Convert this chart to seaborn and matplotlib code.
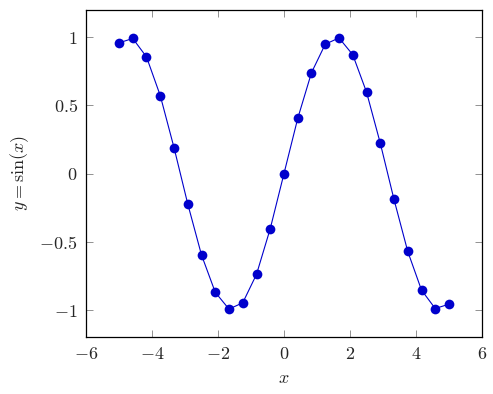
import matplotlib
matplotlib.use("Agg")
import matplotlib.pyplot as plt
import seaborn as sns
import pandas as pd

x_vals = [-5.0, -4.583, -4.167, -3.75, -3.333, -2.917, -2.5, -2.083, -1.667, -1.25,
          -0.833, -0.417, 0.0, 0.417, 0.833, 1.25, 1.667, 2.083, 2.5, 2.917,
          3.333, 3.75, 4.167, 4.583, 5.0]
y_vals = [0.959, 0.991, 0.856, 0.572, 0.190, -0.223, -0.598, -0.872, -0.995, -0.949,
          -0.740, -0.405, 0.0, 0.405, 0.740, 0.949, 0.995, 0.872, 0.598, 0.223,
          -0.190, -0.572, -0.856, -0.991, -0.959]
x_ticks = [-6, -4, -2, 0, 2, 4, 6]
y_ticks = [-1, -0.5, 0, 0.5, 1]

sns.set_style("ticks")
plt.rcParams["mathtext.fontset"] = "cm"
plt.rcParams["font.family"] = ["DejaVu Serif"]
plt.rcParams["axes.formatter.use_mathtext"] = True

df = pd.DataFrame({"x": x_vals, "y": y_vals})

fig = plt.figure(figsize=(4.93, 3.94), dpi=100)
ax = fig.add_axes([86/493, 1-337/394, (482-86)/493, (337-10)/394])
sns.lineplot(data=df, x="x", y="y", ax=ax, color="#0000cc", marker="o",
             markersize=7, markeredgewidth=0, linewidth=0.8, sort=False)

ax.set_xlim(-6, 6)
ax.set_ylim(-1.2, 1.2)
ax.set_xticks(x_ticks)
ax.set_yticks(y_ticks)
ax.set_xticklabels([f"${v}$" for v in x_ticks], fontsize=13)
ax.set_yticklabels(["$-1$", "$-0.5$", "$0$", "$0.5$", "$1$"], fontsize=13)
ax.tick_params(direction="in", length=5, width=0.6, color="#808080",
               top=True, right=True, pad=6)
for s in ax.spines.values():
    s.set_visible(True)
    s.set_linewidth(0.9)
    s.set_color("black")
ax.set_xlabel("$x$", fontsize=13, labelpad=4)
ax.set_ylabel(r"$y = \sin(x)$", fontsize=13, labelpad=6)

fig.savefig("out.png", dpi=100)
